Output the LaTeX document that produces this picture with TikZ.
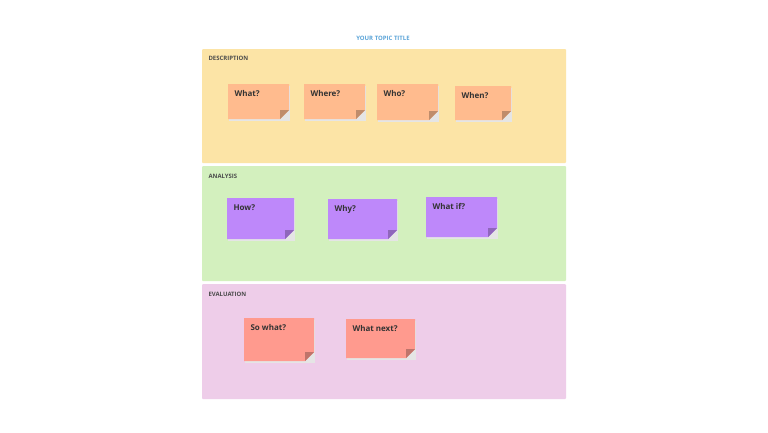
\documentclass[tikz,border=0pt]{standalone}
\usepackage{fontspec}
\setmainfont{Open Sans}
\begin{document}
\begin{tikzpicture}[x=1pt,y=-1pt,
  panel/.style={draw=none,rounded corners=1pt},
  plab/.style={anchor=west,font=\bfseries\fontsize{6}{7}\selectfont,text=black!70},
  nlab/.style={anchor=north west,font=\bfseries\fontsize{8}{9}\selectfont,text=black!80}]
\useasboundingbox (0,0) rectangle (768,432);
\fill[white] (0,0) rectangle (768,432);
\node[font=\bfseries\fontsize{6}{7}\selectfont,text={rgb,255:red,91;green,164;blue,216}] (title) at (383,38) {YOUR TOPIC TITLE};
\definecolor{pa}{RGB}{252,228,166}\definecolor{pb}{RGB}{211,240,190}\definecolor{pc}{RGB}{238,205,233}
\definecolor{so}{RGB}{255,187,142}\definecolor{sp}{RGB}{190,136,250}\definecolor{sr}{RGB}{255,154,142}
\fill[pa,panel] (202,49) rectangle (566,163);
\fill[pb,panel] (202,166) rectangle (566,281);
\fill[pc,panel] (202,284) rectangle (566,399);
\node[plab] (l1) at (205,58) {DESCRIPTION};
\node[plab] (l2) at (205,176) {ANALYSIS};
\node[plab] (l3) at (205,294) {EVALUATION};
\newcommand{\sticky}[6]{%
  \fill[black!10] (#1+1,#2+2) rectangle (#3+1,#4+2);
  \fill[#5] (#1,#2) -- (#3,#2) -- (#3,#4-9) -- (#3-9,#4) -- (#1,#4) -- cycle;
  \fill[#5!75!black] (#3,#4-9) -- (#3-9,#4-9) -- (#3-9,#4) -- cycle;
  \node[nlab] at (#1+3,#2+3) {#6};}
\sticky{228}{84}{289}{119}{so}{What?}
\sticky{304}{84}{365}{119}{so}{Where?}
\sticky{377}{84}{438}{120}{so}{Who?}
\sticky{455}{86}{511}{120}{so}{When?}
\sticky{227}{198}{294}{239}{sp}{How?}
\sticky{328}{199}{397}{239}{sp}{Why?}
\sticky{426}{197}{497}{237}{sp}{What if?}
\sticky{244}{318}{314}{361}{sr}{So what?}
\sticky{346}{319}{415}{358}{sr}{What next?}
\end{tikzpicture}
\end{document}
